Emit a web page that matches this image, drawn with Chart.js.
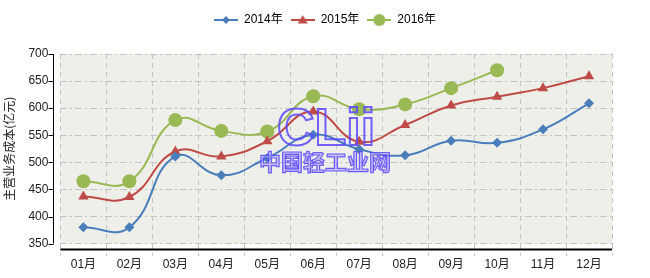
<!DOCTYPE html>
<html>
<head>
<meta charset="utf-8">
<script src="https://cdn.jsdelivr.net/npm/chart.js@4"></script>
<style>
  html, body { margin: 0; padding: 0; background: #fff; }
  #wrap { width: 650px; height: 278px; }
</style>
</head>
<body>
<div id="wrap"><canvas id="costChart" width="650" height="278"></canvas></div>
<script>
const months = ['01月', '02月', '03月', '04月', '05月', '06月', '07月', '08月', '09月', '10月', '11月', '12月'];
const cost2014 = [380, 380, 511, 476, 508, 551, 524, 513, 540, 536, 561, 609];
const cost2015 = [437, 436, 520, 511, 539, 594, 538, 569, 605, 621, 637, 659];
const cost2016 = [465, 465, 578, 558, 557, 622, 598, 607, 637, 670];
const yTicks = [350, 400, 450, 500, 550, 600, 650, 700];

const FONT = '"Liberation Sans", "Noto Sans CJK SC", sans-serif';

// little line+marker picture for the legend
function legendIcon(color, style, r) {
  const c = document.createElement('canvas');
  c.width = 24; c.height = 14;
  const g = c.getContext('2d');
  g.strokeStyle = color;
  g.fillStyle = color;
  g.lineWidth = 2;
  g.beginPath(); g.moveTo(0, 7); g.lineTo(24, 7); g.stroke();
  g.beginPath();
  if (style === 'circle') {
    g.arc(12, 7, r, 0, Math.PI * 2);
  } else if (style === 'triangle') {
    g.moveTo(12, 7 - r); g.lineTo(12 + r, 7 + r * 0.7); g.lineTo(12 - r, 7 + r * 0.7); g.closePath();
  } else {
    g.moveTo(12, 7 - r); g.lineTo(12 + r, 7); g.lineTo(12, 7 + r); g.lineTo(12 - r, 7); g.closePath();
  }
  g.fill();
  return c;
}

// push the plot down under the legend, and centre the legend on the page
const legendGap = {
  id: 'legendGap',
  beforeInit(chart) {
    const fit = chart.legend.fit;
    chart.legend.fit = function () {
      fit.bind(chart.legend)();
      this.height += 18;
    };
  },
  afterLayout(chart) {
    chart.legend.left += 18;
    chart.legend.right += 18;
  }
};

const plotDeco = {
  id: 'plotDeco',
  beforeDraw(chart) {
    const { ctx, chartArea: a } = chart;
    ctx.save();
    ctx.fillStyle = '#efefe9';
    ctx.fillRect(a.left, a.top, a.right - a.left, a.bottom - a.top);
    ctx.restore();
  },
  afterDraw(chart) {
    const { ctx, chartArea: a, scales } = chart;
    ctx.save();
    ctx.strokeStyle = '#000';
    ctx.lineWidth = 1;
    // y axis line, set off to the left of the plot
    const ax = Math.round(a.left) - 6.5;
    ctx.beginPath(); ctx.moveTo(ax, a.top); ctx.lineTo(ax, a.bottom); ctx.stroke();
    yTicks.forEach(v => {
      const y = Math.round(scales.y.getPixelForValue(v)) + 0.5;
      ctx.beginPath(); ctx.moveTo(ax - 5, y); ctx.lineTo(ax, y); ctx.stroke();
    });
    // x axis line, set off below the plot
    ctx.lineWidth = 2;
    const by = a.bottom + 6;
    ctx.beginPath(); ctx.moveTo(a.left, by); ctx.lineTo(a.right, by); ctx.stroke();
    ctx.restore();
  },
  afterDatasetsDraw(chart) {
    const { ctx } = chart;
    ctx.save();
    ctx.textAlign = 'center';
    ctx.textBaseline = 'middle';
    ctx.lineWidth = 2;
    ctx.strokeStyle = 'rgba(90, 70, 255, 0.85)';
    ctx.font = 'bold 52px ' + FONT;
    ctx.strokeText('CLii', 326, 131);
    ctx.font = 'bold 22px "Noto Sans CJK SC", sans-serif';
    ctx.fillStyle = 'rgba(170, 160, 255, 0.6)';
    ctx.fillText('中国轻工业网', 325, 162);
    ctx.lineWidth = 1.2;
    ctx.strokeText('中国轻工业网', 325, 162);
    ctx.restore();
  }
};

const series = [
  { label: '2014年', data: cost2014, color: '#4a7ebb', style: 'rectRot', r: 5 },
  { label: '2015年', data: cost2015, color: '#be4b48', style: 'triangle', r: 6 },
  { label: '2016年', data: cost2016, color: '#98b954', style: 'circle', r: 7 }
];

new Chart(document.getElementById('costChart'), {
  type: 'line',
  data: {
    labels: months,
    datasets: series.map(s => ({
      label: s.label,
      data: s.data,
      borderColor: s.color,
      backgroundColor: s.color,
      borderWidth: 2,
      pointStyle: s.style,
      pointRadius: s.r,
      pointHoverRadius: s.r,
      pointBorderWidth: 0,
      tension: 0.45,
      fill: false
    }))
  },
  options: {
    responsive: false,
    animation: false,
    devicePixelRatio: 1,
    layout: { padding: { left: 2, right: 38, top: 6, bottom: 4 } },
    plugins: {
      tooltip: { enabled: false },
      legend: {
        display: true,
        position: 'top',
        labels: {
          usePointStyle: true,
          pointStyleWidth: 24,
          font: { family: FONT, size: 12 },
          color: '#222',
          padding: 8,
          generateLabels: () => series.map((s, i) => ({
            text: s.label,
            pointStyle: legendIcon(s.color, s.style === 'rectRot' ? 'diamond' : s.style, s.r - 1),
            fillStyle: s.color,
            strokeStyle: s.color,
            lineWidth: 0,
            datasetIndex: i,
            hidden: false
          }))
        }
      }
    },
    scales: {
      x: {
        offset: true,
        border: { display: false, dash: [5, 4] },
        grid: {
          offset: true,
          color: '#c4c4c4',
          tickColor: '#c4c4c4',
          tickLength: 12,
          tickBorderDash: [5, 4],
          drawTicks: true
        },
        ticks: { font: { family: FONT, size: 12 }, color: '#222', padding: 2 }
      },
      y: {
        min: 350,
        max: 700,
        border: { display: false, dash: [7, 3, 2, 3] },
        afterBuildTicks: axis => { axis.ticks = yTicks.map(v => ({ value: v })); },
        grid: {
          color: '#c4c4c4',
          drawTicks: false
        },
        ticks: { font: { family: FONT, size: 12 }, color: '#222', padding: 12 },
        title: {
          display: true,
          text: '主营业务成本(亿元)',
          font: { family: '"Noto Sans CJK SC", sans-serif', size: 12 },
          color: '#222',
          padding: { top: 0, bottom: 0 }
        }
      }
    }
  },
  plugins: [legendGap, plotDeco]
});
</script>
</body>
</html>
